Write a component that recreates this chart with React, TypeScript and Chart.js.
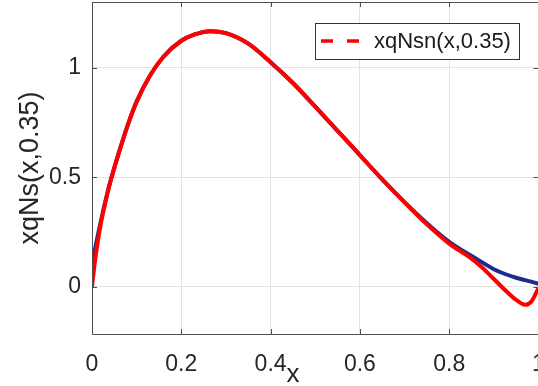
import React, { useEffect, useRef } from "react";
import { Chart, registerables } from "chart.js";

Chart.register(...registerables);

const xs = [0, 0.005, 0.01, 0.02, 0.03, 0.04, 0.06, 0.08, 0.1, 0.13, 0.16, 0.2, 0.23, 0.265, 0.3, 0.35, 0.4, 0.45, 0.5, 0.55, 0.6, 0.65, 0.7, 0.75, 0.8, 0.85, 0.875, 0.9, 0.925, 0.95, 0.97, 0.985, 1.0];
const seriesNsn = [0, 0.09, 0.165, 0.29, 0.385, 0.47, 0.61, 0.737, 0.845, 0.964, 1.05, 1.123, 1.152, 1.167, 1.158, 1.11, 1.025, 0.93, 0.822, 0.712, 0.601, 0.49, 0.385, 0.285, 0.197, 0.128, 0.085, 0.035, -0.015, -0.06, -0.083, -0.065, -0.005];
const seriesNs = [0.085, 0.15, 0.205, 0.3, 0.39, 0.472, 0.611, 0.738, 0.845, 0.964, 1.05, 1.123, 1.152, 1.167, 1.158, 1.11, 1.025, 0.93, 0.822, 0.712, 0.601, 0.49, 0.386, 0.29, 0.205, 0.14, 0.11, 0.08, 0.058, 0.041, 0.03, 0.022, 0.013];

const xTickValues = [0, 0.2, 0.4, 0.6, 0.8, 1];
const xTickLabels = ["0", "0.2", "0.4", "0.6", "0.8", "1"];
const yTickValues = [0, 0.5, 1];
const yTickLabels = ["0", "0.5", "1"];
const legendLabel = "xqNsn(x,0.35)";
const yTitle = "xqNs(x,0.35)";
const xTitle = "x";
const xTitleAt = 0.45;

const FONT = "'Liberation Sans', Arial, Helvetica, sans-serif";
const TEXT = "#262626";

export default function App() {
  const ref = useRef<HTMLCanvasElement | null>(null);

  useEffect(() => {
    if (!ref.current) return;
    const framePlugin = {
      id: "frame",
      afterDraw(chart: any) {
        const { ctx, chartArea: a, scales } = chart;
        const sx = scales.x;
        const sy = scales.y;
        ctx.save();
        ctx.strokeStyle = "#4d4d4d";
        ctx.lineWidth = 1;
        ctx.beginPath();
        ctx.rect(Math.round(a.left) + 0.5, Math.round(a.top) + 0.5, a.right - a.left, Math.round(a.bottom - a.top));
        ctx.stroke();
        const tl = 5;
        ctx.beginPath();
        xTickValues.forEach((v) => {
          const px = Math.round(sx.getPixelForValue(v)) + 0.5;
          ctx.moveTo(px, a.bottom);
          ctx.lineTo(px, a.bottom - tl);
          ctx.moveTo(px, a.top);
          ctx.lineTo(px, a.top + tl);
        });
        yTickValues.forEach((v) => {
          const py = Math.round(sy.getPixelForValue(v)) + 0.5;
          ctx.moveTo(a.left, py);
          ctx.lineTo(a.left + tl, py);
          ctx.moveTo(a.right, py);
          ctx.lineTo(a.right - tl, py);
        });
        ctx.stroke();

        ctx.fillStyle = TEXT;
        ctx.font = `26px ${FONT}`;
        ctx.textAlign = "center";
        ctx.textBaseline = "middle";
        ctx.fillText(xTitle, sx.getPixelForValue(xTitleAt), a.bottom + 41);

        const bw = 204;
        const bh = 36;
        const bx = Math.round(a.right - 19.5 - bw);
        const by = Math.round(a.top + 21);
        ctx.fillStyle = "#ffffff";
        ctx.fillRect(bx, by, bw, bh);
        ctx.strokeStyle = "#333333";
        ctx.lineWidth = 1;
        ctx.strokeRect(bx + 0.5, by + 0.5, bw, bh);
        ctx.strokeStyle = "#ff0000";
        ctx.lineWidth = 3.5;
        ctx.setLineDash([12, 14]);
        ctx.beginPath();
        ctx.moveTo(bx + 6, by + 18);
        ctx.lineTo(bx + 46, by + 18);
        ctx.stroke();
        ctx.setLineDash([]);
        ctx.fillStyle = "#1a1a1a";
        ctx.font = `22px ${FONT}`;
        ctx.textAlign = "left";
        ctx.textBaseline = "middle";
        ctx.fillText(legendLabel, bx + 59, by + 19);
        ctx.restore();
      },
    };

    const chart = new Chart(ref.current, {
      type: "line",
      data: {
        datasets: [
          {
            label: legendLabel,
            data: xs.map((x, i) => ({ x, y: seriesNsn[i] })),
            borderColor: "#ff0000",
            borderWidth: 4,
            pointRadius: 0,
            cubicInterpolationMode: "monotone",
            fill: false,
          },
          {
            label: "xqNs(x,0.35)",
            data: xs.map((x, i) => ({ x, y: seriesNs[i] })),
            borderColor: "#1b2d8c",
            borderWidth: 4,
            pointRadius: 0,
            cubicInterpolationMode: "monotone",
            fill: false,
          },
        ],
      },
      options: {
        animation: false,
        responsive: false,
        devicePixelRatio: 1,
        layout: { padding: { left: 0, top: 2, right: 21.5, bottom: 0 } },
        plugins: { legend: { display: false }, tooltip: { enabled: false } },
        scales: {
          x: {
            type: "linear",
            min: 0,
            max: 1,
            afterBuildTicks: (s: any) => {
              s.ticks = xTickValues.map((v) => ({ value: v }));
            },
            afterFit: (s: any) => {
              s.height = 52;
              s.paddingLeft = 0;
              s.paddingRight = 0;
            },
            ticks: {
              callback: (v: any) => xTickLabels[xTickValues.indexOf(Number(v))],
              font: { family: FONT, size: 23 },
              color: TEXT,
              padding: 17,
              maxRotation: 0,
            },
            grid: { color: "#e3e3e3", drawTicks: false, lineWidth: 1 },
            border: { display: false },
          },
          y: {
            type: "linear",
            min: -0.216,
            max: 1.3,
            afterBuildTicks: (s: any) => {
              s.ticks = yTickValues.map((v) => ({ value: v }));
            },
            afterFit: (s: any) => {
              s.width = 92;
              s.paddingTop = 0;
              s.paddingBottom = 0;
            },
            ticks: {
              callback: (v: any) => yTickLabels[yTickValues.indexOf(Number(v))],
              font: { family: FONT, size: 23 },
              color: TEXT,
              padding: 11,
            },
            grid: { color: "#e3e3e3", drawTicks: false, lineWidth: 1 },
            border: { display: false },
            title: {
              display: true,
              text: yTitle,
              font: { family: FONT, size: 27 },
              color: TEXT,
              padding: { top: 14, bottom: 0 },
            },
          },
        },
      },
      plugins: [framePlugin],
    } as any);
    return () => chart.destroy();
  }, []);

  return (
    <div style={{ position: "absolute", left: 0, top: 0, width: 538, height: 386, overflow: "hidden", background: "#fff" }}>
      <canvas ref={ref} width={560} height={386} style={{ width: 560, height: 386, display: "block" }} />
    </div>
  );
}
